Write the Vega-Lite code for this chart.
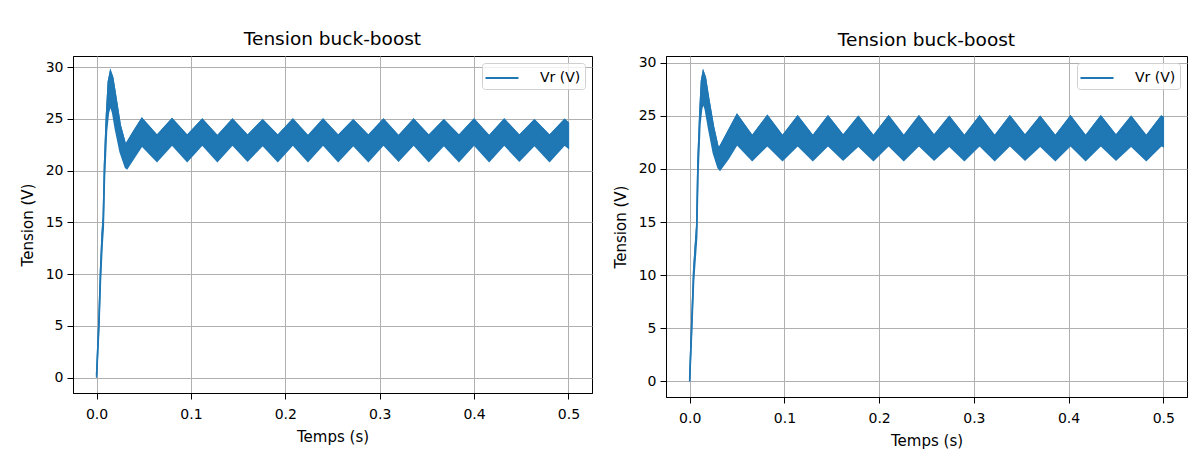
{
  "$schema": "https://vega.github.io/schema/vega-lite/v6.json",
  "background": "white",
  "padding": {"left": 19, "top": 29, "right": 0, "bottom": 5},
  "datasets": {
    "runA": [
      {"t": 0.0, "lo": 0.0, "hi": 0.3},
      {"t": 0.0024, "lo": 4.7, "hi": 5.3},
      {"t": 0.0042, "lo": 9.6, "hi": 10.4},
      {"t": 0.0059, "lo": 12.9, "hi": 13.9},
      {"t": 0.0071, "lo": 14.5, "hi": 15.5},
      {"t": 0.0084, "lo": 19.4, "hi": 20.6},
      {"t": 0.0105, "lo": 23.8, "hi": 25.4},
      {"t": 0.0125, "lo": 25.6, "hi": 28.6},
      {"t": 0.0147, "lo": 26.3, "hi": 29.6},
      {"t": 0.017, "lo": 25.6, "hi": 29.0},
      {"t": 0.02, "lo": 24.0, "hi": 27.3},
      {"t": 0.025, "lo": 21.8, "hi": 24.4},
      {"t": 0.0306, "lo": 20.3, "hi": 22.5},
      {"t": 0.0322, "lo": 20.2, "hi": 22.7},
      {"t": 0.04, "lo": 21.3, "hi": 23.9},
      {"t": 0.048, "lo": 22.4, "hi": 25.05},
      {"t": 0.064, "lo": 20.9, "hi": 23.4},
      {"t": 0.08, "lo": 22.5, "hi": 25.0},
      {"t": 0.096, "lo": 20.9, "hi": 23.4},
      {"t": 0.112, "lo": 22.5, "hi": 24.95},
      {"t": 0.128, "lo": 20.9, "hi": 23.35},
      {"t": 0.144, "lo": 22.5, "hi": 24.95},
      {"t": 0.16, "lo": 20.95, "hi": 23.4},
      {"t": 0.176, "lo": 22.45, "hi": 24.9},
      {"t": 0.192, "lo": 20.9, "hi": 23.4},
      {"t": 0.208, "lo": 22.5, "hi": 24.95},
      {"t": 0.224, "lo": 20.9, "hi": 23.35},
      {"t": 0.24, "lo": 22.5, "hi": 24.95},
      {"t": 0.256, "lo": 20.9, "hi": 23.4},
      {"t": 0.272, "lo": 22.45, "hi": 24.9},
      {"t": 0.288, "lo": 20.9, "hi": 23.4},
      {"t": 0.304, "lo": 22.5, "hi": 24.95},
      {"t": 0.32, "lo": 20.95, "hi": 23.35},
      {"t": 0.336, "lo": 22.5, "hi": 24.95},
      {"t": 0.352, "lo": 20.9, "hi": 23.4},
      {"t": 0.368, "lo": 22.45, "hi": 24.9},
      {"t": 0.384, "lo": 20.9, "hi": 23.4},
      {"t": 0.4, "lo": 22.5, "hi": 24.95},
      {"t": 0.416, "lo": 20.9, "hi": 23.35},
      {"t": 0.432, "lo": 22.5, "hi": 24.95},
      {"t": 0.448, "lo": 20.95, "hi": 23.4},
      {"t": 0.464, "lo": 22.45, "hi": 24.9},
      {"t": 0.48, "lo": 20.9, "hi": 23.4},
      {"t": 0.496, "lo": 22.5, "hi": 24.95},
      {"t": 0.5, "lo": 22.2, "hi": 24.6}
    ],
    "runB": [
      {"t": 0.0, "lo": 0.0, "hi": 0.3},
      {"t": 0.0021, "lo": 4.7, "hi": 5.3},
      {"t": 0.0042, "lo": 9.6, "hi": 10.4},
      {"t": 0.0074, "lo": 13.6, "hi": 14.6},
      {"t": 0.0087, "lo": 19.4, "hi": 20.6},
      {"t": 0.0108, "lo": 24.2, "hi": 25.4},
      {"t": 0.0125, "lo": 25.6, "hi": 28.3},
      {"t": 0.0143, "lo": 26.2, "hi": 29.15},
      {"t": 0.0165, "lo": 25.6, "hi": 28.6},
      {"t": 0.02, "lo": 23.8, "hi": 26.6},
      {"t": 0.025, "lo": 21.5, "hi": 24.0},
      {"t": 0.03, "lo": 20.1, "hi": 22.0},
      {"t": 0.032, "lo": 19.9, "hi": 22.1},
      {"t": 0.041, "lo": 21.0, "hi": 23.6},
      {"t": 0.05, "lo": 22.3, "hi": 25.1},
      {"t": 0.066, "lo": 20.8, "hi": 23.1},
      {"t": 0.082, "lo": 22.2, "hi": 25.0},
      {"t": 0.098, "lo": 20.8, "hi": 23.1},
      {"t": 0.114, "lo": 22.2, "hi": 24.95},
      {"t": 0.13, "lo": 20.8, "hi": 23.1},
      {"t": 0.146, "lo": 22.2, "hi": 24.95},
      {"t": 0.162, "lo": 20.85, "hi": 23.15},
      {"t": 0.178, "lo": 22.15, "hi": 24.9},
      {"t": 0.194, "lo": 20.8, "hi": 23.1},
      {"t": 0.21, "lo": 22.2, "hi": 24.95},
      {"t": 0.226, "lo": 20.8, "hi": 23.1},
      {"t": 0.242, "lo": 22.2, "hi": 24.95},
      {"t": 0.258, "lo": 20.85, "hi": 23.15},
      {"t": 0.274, "lo": 22.15, "hi": 24.9},
      {"t": 0.29, "lo": 20.8, "hi": 23.1},
      {"t": 0.306, "lo": 22.2, "hi": 24.95},
      {"t": 0.322, "lo": 20.8, "hi": 23.1},
      {"t": 0.338, "lo": 22.2, "hi": 24.95},
      {"t": 0.354, "lo": 20.85, "hi": 23.15},
      {"t": 0.37, "lo": 22.15, "hi": 24.9},
      {"t": 0.386, "lo": 20.8, "hi": 23.1},
      {"t": 0.402, "lo": 22.2, "hi": 24.95},
      {"t": 0.418, "lo": 20.8, "hi": 23.1},
      {"t": 0.434, "lo": 22.2, "hi": 24.95},
      {"t": 0.45, "lo": 20.85, "hi": 23.15},
      {"t": 0.466, "lo": 22.15, "hi": 24.9},
      {"t": 0.482, "lo": 20.8, "hi": 23.1},
      {"t": 0.498, "lo": 22.2, "hi": 24.95},
      {"t": 0.5, "lo": 22.1, "hi": 24.85}
    ]
  },
  "spacing": 19,
  "hconcat": [
    {
      "width": 519,
      "height": 337,
      "title": {"text": "Tension buck-boost", "offset": 8},
      "data": {"name": "runA"},
      "encoding": {
        "x": {
          "field": "t",
          "type": "quantitative",
          "scale": {"domain": [-0.025, 0.525], "nice": false, "zero": false},
          "axis": {"title": "Temps (s)", "values": [0, 0.1, 0.2, 0.3, 0.4, 0.5], "format": ".1f"}
        }
      },
      "layer": [
        {
          "mark": {"type": "area", "fill": "#1f77b4", "stroke": "#1f77b4", "strokeWidth": 1.5},
          "encoding": {
            "y": {
              "field": "lo",
              "type": "quantitative",
              "scale": {"domain": [-1.48, 31.08], "nice": false, "zero": false},
              "axis": {"title": "Tension (V)", "values": [0, 5, 10, 15, 20, 25, 30], "format": "d"}
            },
            "y2": {"field": "hi"}
          }
        },
        {
          "mark": {"type": "line", "strokeWidth": 1.5},
          "encoding": {
            "y": {
              "field": "hi",
              "type": "quantitative",
              "axis": {"title": "Tension (V)", "values": [0, 5, 10, 15, 20, 25, 30], "format": "d"}
            },
            "color": {"datum": "Vr (V)", "scale": {"range": ["#1f77b4"]}, "legend": {"title": null}}
          }
        }
      ]
    },
    {
      "width": 521,
      "height": 341,
      "title": {"text": "Tension buck-boost", "offset": 6},
      "data": {"name": "runB"},
      "encoding": {
        "x": {
          "field": "t",
          "type": "quantitative",
          "scale": {"domain": [-0.025, 0.525], "nice": false, "zero": false},
          "axis": {"title": "Temps (s)", "values": [0, 0.1, 0.2, 0.3, 0.4, 0.5], "format": ".1f"}
        }
      },
      "layer": [
        {
          "mark": {"type": "area", "fill": "#1f77b4", "stroke": "#1f77b4", "strokeWidth": 1.5},
          "encoding": {
            "y": {
              "field": "lo",
              "type": "quantitative",
              "scale": {"domain": [-1.46, 30.62], "nice": false, "zero": false},
              "axis": {"title": "Tension (V)", "values": [0, 5, 10, 15, 20, 25, 30], "format": "d"}
            },
            "y2": {"field": "hi"}
          }
        },
        {
          "mark": {"type": "line", "strokeWidth": 1.5},
          "encoding": {
            "y": {
              "field": "hi",
              "type": "quantitative",
              "axis": {"title": "Tension (V)", "values": [0, 5, 10, 15, 20, 25, 30], "format": "d"}
            },
            "color": {"datum": "Vr (V)", "scale": {"range": ["#1f77b4"]}, "legend": {"title": null}}
          }
        }
      ]
    }
  ],
  "resolve": {
    "scale": {"x": "independent", "y": "independent", "color": "independent"},
    "legend": {"color": "independent"}
  },
  "config": {
    "font": "DejaVu Sans",
    "view": {"stroke": "black", "strokeWidth": 1},
    "title": {"font": "DejaVu Sans", "fontSize": 18.5, "fontWeight": "normal", "color": "black", "anchor": "middle"},
    "axis": {
      "labelFont": "DejaVu Sans",
      "labelFontSize": 14,
      "labelColor": "black",
      "titleFont": "DejaVu Sans",
      "titleFontSize": 15,
      "titleFontWeight": "normal",
      "titleColor": "black",
      "domainColor": "black",
      "tickColor": "black",
      "tickSize": 6,
      "labelPadding": 4,
      "grid": true,
      "gridColor": "#b0b0b0",
      "gridWidth": 1
    },
    "axisX": {"labelPadding": 8, "titlePadding": 8},
    "axisY": {"titlePadding": 10},
    "legend": {
      "orient": "top-right",
      "offset": 7,
      "labelFont": "DejaVu Sans",
      "labelFontSize": 14,
      "labelColor": "black",
      "symbolType": "M-1.65,0H1.65",
      "symbolSize": 400,
      "symbolStrokeWidth": 2,
      "symbolOffset": 5,
      "labelOffset": 27,
      "padding": 4,
      "cornerRadius": 3,
      "strokeColor": "#d0d0d0",
      "fillColor": "rgba(255,255,255,0.8)"
    }
  }
}
